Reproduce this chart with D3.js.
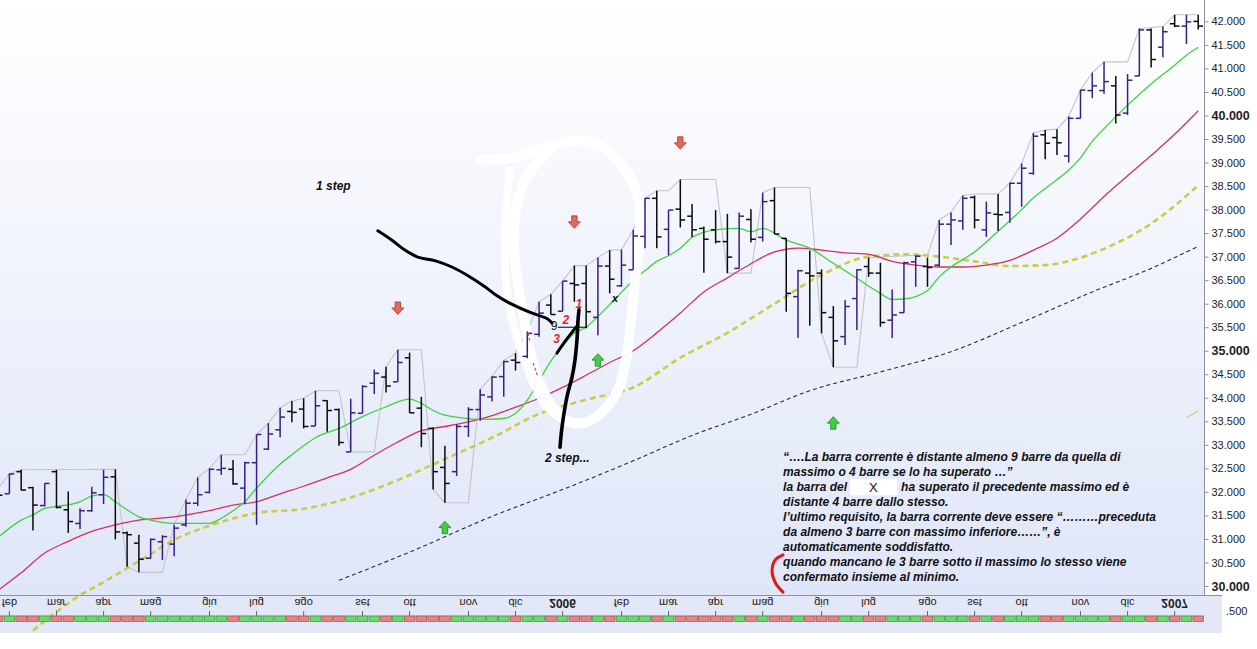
<!DOCTYPE html>
<html><head><meta charset="utf-8">
<script src="https://cdn.jsdelivr.net/npm/d3@7/dist/d3.min.js"></script>
<style>
html,body{margin:0;padding:0;background:#fff;overflow:hidden}
svg{display:block;font-family:"Liberation Sans",Arial,sans-serif}
</style></head><body>
<svg id="chart" width="1257" height="649"></svg>
<script>
// ---------- DATA (weekly bars, values in index points) ----------
const dates = ["2005-01-31","2005-02-07","2005-02-14","2005-02-21","2005-02-28","2005-03-07","2005-03-14","2005-03-21","2005-03-28","2005-04-04","2005-04-11","2005-04-18","2005-04-25","2005-05-02","2005-05-09","2005-05-16","2005-05-23","2005-05-30","2005-06-06","2005-06-13","2005-06-20","2005-06-27","2005-07-04","2005-07-11","2005-07-18","2005-07-25","2005-08-01","2005-08-08","2005-08-15","2005-08-22","2005-08-29","2005-09-05","2005-09-12","2005-09-19","2005-09-26","2005-10-03","2005-10-10","2005-10-17","2005-10-24","2005-10-31","2005-11-07","2005-11-14","2005-11-21","2005-11-28","2005-12-05","2005-12-12","2005-12-19","2005-12-26","2006-01-02","2006-01-09","2006-01-16","2006-01-23","2006-01-30","2006-02-06","2006-02-13","2006-02-20","2006-02-27","2006-03-06","2006-03-13","2006-03-20","2006-03-27","2006-04-03","2006-04-10","2006-04-17","2006-04-24","2006-05-01","2006-05-08","2006-05-15","2006-05-22","2006-05-29","2006-06-05","2006-06-12","2006-06-19","2006-06-26","2006-07-03","2006-07-10","2006-07-17","2006-07-24","2006-07-31","2006-08-07","2006-08-14","2006-08-21","2006-08-28","2006-09-04","2006-09-11","2006-09-18","2006-09-25","2006-10-02","2006-10-09","2006-10-16","2006-10-23","2006-10-30","2006-11-06","2006-11-13","2006-11-20","2006-11-27","2006-12-04","2006-12-11","2006-12-18","2006-12-25","2007-01-01","2007-01-08","2007-01-15"];
const open  = [31980,31960,32430,32090,31710,32430,31620,31330,31600,31940,32320,31130,30910,30590,30940,30890,31300,31760,31990,32470,32480,32080,32620,32910,33320,33710,33760,33400,33940,33750,32850,33670,34310,34440,34340,34850,33780,33350,32520,32430,33390,33750,34020,34450,34800,34880,35350,35970,35840,36430,36430,35710,36800,36380,36720,37430,38240,37580,38010,37860,37600,37570,37320,36750,37790,37410,38190,37390,36150,36650,36650,35710,35300,36110,36790,36650,35650,35810,36890,36790,36820,37690,37760,38260,37570,37900,37940,38560,38770,39590,39530,39140,39940,40530,40530,40630,40050,40840,41820,41450,41950,41900,42000];
const high  = [32050,32390,32470,32110,32180,32470,32010,31650,32110,32470,32480,31160,31090,31010,31080,31300,31840,32310,32500,32790,32680,32640,33220,33460,33790,33930,33990,34150,33950,33770,33980,34270,34600,34660,35020,34960,34020,33370,32980,33440,33800,34180,34460,34790,34950,35410,36040,36200,36480,36810,36810,36980,37140,37150,37570,38240,38400,37990,38640,38120,37640,37990,37910,37940,38010,38360,38470,37390,36720,37130,36730,35950,36080,36730,36980,36870,36300,36890,37030,36980,37780,37940,38300,38300,38170,38330,38570,38980,39630,39690,39710,39980,40540,40910,41140,40840,40880,41850,41850,41890,42140,42140,42140];
const low   = [31800,31960,32030,31180,31690,31650,31130,31210,31580,31740,30990,30410,30290,30580,30550,30630,31260,31700,31970,32360,32150,31740,31300,32890,33160,33480,33350,33400,33280,32980,32850,33670,34080,34110,34340,33680,32950,32050,31770,32340,33170,33510,33920,34020,34580,34840,35300,35770,35840,36040,35480,35330,36220,36360,36720,37180,37180,37030,37620,37420,36660,37280,36650,36750,37300,37320,37480,35830,35270,35530,35370,34650,35120,35440,36570,35510,35270,35810,36360,36360,36790,37250,37570,37600,37420,37550,37720,38060,38740,39070,39160,39000,39940,40370,40460,39830,40010,40840,41020,41240,41880,41520,41830];
const close = [31930,32380,32040,31720,32180,31670,31370,31600,31980,32310,31150,31090,30570,30990,31050,31230,31760,31940,32480,32500,32170,32620,33220,33230,33590,33690,33390,33830,33730,33050,33680,34240,34520,34250,34750,33680,33240,32430,32180,33390,33750,34060,34440,34770,34750,35370,35800,35770,36480,36400,35830,36800,36520,36820,37440,38240,37420,37990,37780,37570,37370,37320,36990,37860,37370,38170,37480,36220,36700,36590,35810,35210,35940,36720,36650,35600,35760,36870,37010,36770,37690,37780,38240,37780,37930,37890,38560,38880,39560,39410,39420,39940,40540,40630,40720,40010,40750,41820,41190,41780,41900,41990,41900];

// month ticks (first bar of each month) and their labels
const tickDates  = ["2005-02-07","2005-03-07","2005-04-04","2005-05-02","2005-06-06","2005-07-04","2005-08-01","2005-09-05","2005-10-03","2005-11-07","2005-12-05","2006-01-02","2006-02-06","2006-03-06","2006-04-03","2006-05-01","2006-06-05","2006-07-03","2006-08-07","2006-09-04","2006-10-02","2006-11-06","2006-12-04","2007-01-01"];
const tickLabels = ["feb","mar","apr","mag","giu","lug","ago","set","ott","nov","dic","2006","feb","mar","apr","mag","giu","lug","ago","set","ott","nov","dic","2007"];
const yTicks = [30000,30500,31000,31500,32000,32500,33000,33500,34000,34500,35000,35500,36000,36500,37000,37500,38000,38500,39000,39500,40000,40500,41000,41500,42000];

// swing (gray) line vertices: bar number (0 = 2005-02-07) and level
const swingIdx = [-1,0,1,9,10,11,13,14,15,16,17,18,20,21,22,23,24,25,26,28,29,31,32,33,35,36,37,39,40,41,42,43,44,45,46,47,48,49,50,51,52,53,54,55,56,57,60,61,63,64,65,68,69,70,72,73,77,78,79,80,81,82,84,85,86,87,88,89,90,91,92,93,95,96,98,99,101];
const swingVal = [32050,32390,32470,32480,30410,30290,30290,31300,31840,32310,32500,32790,32790,33220,33460,33790,33930,33990,34150,34150,32850,32850,34660,35020,35020,32050,31770,31770,34180,34460,34790,34950,35410,36040,36200,36480,36810,36810,36980,37140,37150,37570,38240,38400,38400,38640,38640,36650,36650,38360,38470,38470,35370,34650,34650,36980,37030,37030,37780,37940,38300,38330,38330,38570,38980,39630,39690,39710,39980,40540,40910,41140,41140,41850,41890,42140,42140];

// moving averages at sample bars
const greenIdx = [-1,1,2,3,4,6,7,8,9,10,11,12,14,17,18,19,20,21,23,24,25,26,28,30,32,34,35,36,37,39,40,42,43,44,45,46,47,48,49,50,51,52,53,54,55,56,57,58,60,62,63,64,66,68,70,72,74,75,76,78,79,80,82,84,86,87,88,90,91,92,93,95,97,99,100,101];
const greenVal = [31020,31400,31510,31650,31690,31790,31910,31940,31790,31620,31470,31400,31330,31330,31440,31600,31790,32080,32590,32790,32980,33150,33350,33600,33810,33970,33880,33730,33630,33560,33540,33560,33670,33950,34360,34780,35100,35380,35500,35730,35980,36240,36500,36700,36900,37020,37180,37410,37570,37600,37530,37600,37350,37180,36860,36540,36220,36090,36100,36280,36570,36780,37100,37540,38000,38250,38450,38840,39100,39450,39720,40220,40670,41070,41280,41450];
const redIdx = [-1,1,3,5,7,9,11,14,17,19,21,23,25,27,29,31,33,35,37,39,41,43,45,47,49,51,53,55,57,59,61,63,65,67,69,71,73,75,77,79,81,83,85,87,89,91,93,95,97,99,101];
const redVal = [29900,30280,30700,30950,31160,31300,31400,31470,31600,31720,31790,31960,32120,32300,32480,32780,33060,33300,33390,33490,33620,33800,33990,34220,34480,34750,35000,35380,35800,36250,36550,36850,37100,37180,37140,37080,37050,36900,36820,36780,36780,36820,36920,37140,37390,37800,38280,38720,39150,39600,40100];
const yellowIdx = [2,4,6,8,10,12,14,17,21,25,29,33,37,41,45,49,53,57,61,65,69,73,76,79,82,85,88,91,94,97,99,101];
const yellowVal = [29050,29450,29800,30080,30380,30680,30980,31280,31550,31640,31880,32250,32700,33150,33660,33960,34220,34850,35380,36000,36610,37000,37050,37000,36900,36800,36820,36980,37280,37700,38080,38520];
const blackIdx = [28,34,41,47,53,58,63,68,74,80,86,92,97,101];
const blackVal = [30120,30720,31480,32050,32660,33200,33650,34150,34550,34980,35600,36250,36750,37220];
const limeIdx = [100,101];
const limeVal = [33580,33720];

// signal arrows
const downIdx = [33,48,57];
const downVal = [35910,37740,39420];
const upIdx = [37,50,70];
const upVal = [31240,34800,33460];

// hand-drawn annotations, in (bar number, level)
const step1Line = [[31.3,37550],[32.5,37350],[33.6,37140],[34.7,36990],[36.2,36910],[37.6,36780],[39.0,36590],[40.4,36360],[41.3,36190],[42.3,36040],[44.2,35820],[45.7,35680],[46.1,35590]];
const step2Line = [[46.78,32950],[46.95,33380],[47.37,34020],[47.8,34440],[48.05,34800],[48.22,35230],[48.31,35650],[48.39,35870]];
const step2Hook = [[46.52,34950],[47.3,35230],[48.3,35550]];
const nineLine  = [[46.6,35500],[49.1,35500]];
const loopOuter = [[39.98,39050],[42.78,39100],[45.68,39330],[48.48,39480],[50.77,39270],[52.13,38910],[53.32,38350],[53.58,37780],[53.41,37040],[53.07,36290],[52.73,35440],[52.39,34810],[51.71,34170],[50.52,33740],[48.9,33470],[47.21,33530],[45.76,33960],[44.66,34590],[43.89,35440],[43.3,36290],[42.87,37140],[42.96,37880],[43.55,38460],[44.66,38950],[46.1,39310]];
const loopInner = [[42.53,38840],[42.11,37570],[42.28,36290],[42.96,35440],[44.06,34590],[45.51,33850],[46.78,33570]];
const redMarks  = [[[44.06,35380],[44.24,35170]],[[44.49,34740],[44.91,34440]]];
const bracket   = [[65.73,30660],[65.05,30550],[64.8,30300],[65.1,30060],[65.73,29870]];
const annotTexts = [
  {t:"1 step", i:26.05, v:38500, fill:"#111", size:12, w:"bold", s:"italic"},
  {t:"2 step...", i:45.5, v:32720, fill:"#111", size:12, w:"bold", s:"italic"},
  {t:"x", i:51.2, v:36120, fill:"#111", size:11, w:"bold", s:"italic"},
  {t:"9", i:46.0, v:35530, fill:"#111", size:12, w:"normal", s:"normal"},
  {t:"2", i:47.0, v:35660, fill:"#e02a2a", size:12, w:"bold", s:"italic"},
  {t:"1", i:48.1, v:36000, fill:"#e02a2a", size:12, w:"bold", s:"italic"},
  {t:"3", i:46.2, v:35250, fill:"#e02a2a", size:12, w:"bold", s:"italic"}
];
const noteIdx = 65.73, noteVal = 32735;
const noteLines = [
  "“….La barra corrente è distante almeno 9 barre da quella di",
  "massimo o 4 barre se lo ha superato …”",
  "la barra del",
  "distante 4 barre dallo stesso.",
  "l’ultimo requisito, la barra corrente deve essere “………preceduta",
  "da almeno 3 barre con massimo inferiore……”, è",
  "automaticamente soddisfatto.",
  "quando mancano le 3 barre sotto il massimo lo stesso viene",
  "confermato insieme al minimo."
];
const noteLine3b = "ha superato il precedente massimo ed è";

// ---------- DRAW ----------
const svg = d3.select("#chart");
const plotR = 1204, plotB = 595;
const xr = [-2.37, 1198.2];
const x  = d3.scalePoint().domain(dates).range(xr);
const xi = d3.scaleLinear().domain([-1, 101]).range(xr);
const y  = d3.scaleLinear().domain([30000, 42000]).range([586, 21.4]);
const fmt = d3.formatLocale({decimal:",", thousands:".", grouping:[3], currency:["€",""]}).format(",.0f");

const defs = svg.append("defs");
const grad = defs.append("linearGradient").attr("id","bgGrad").attr("x1",0).attr("y1",0).attr("x2",0).attr("y2",1);
grad.append("stop").attr("offset","0%").attr("stop-color","#ffffff");
grad.append("stop").attr("offset","100%").attr("stop-color","#dfe6f8");

svg.append("rect").attr("width",1257).attr("height",649).attr("fill","#fff");
svg.append("rect").attr("x",0).attr("y",0).attr("width",plotR).attr("height",plotB).attr("fill","url(#bgGrad)");
svg.append("rect").attr("x",0).attr("y",plotB).attr("width",1222).attr("height",38).attr("fill","#e2e8f7");

const bars = dates.map((d,i)=>({d, o:open[i], h:high[i], l:low[i], c:close[i]}));
const pts = (I,V) => I.map((i,k)=>[i,V[k]]);

// swing line
svg.append("path").datum(pts(swingIdx,swingVal))
  .attr("d", d3.line().x(d=>xi(d[0])).y(d=>y(d[1])))
  .attr("fill","none").attr("stroke","#c4c4cc").attr("stroke-width",1.1);

// moving averages
const curve = d3.line().x(d=>xi(d[0])).y(d=>y(d[1])).curve(d3.curveMonotoneX);
svg.append("path").datum(pts(blackIdx,blackVal)).attr("d",curve)
  .attr("fill","none").attr("stroke","#2a2a3a").attr("stroke-width",1.1).attr("stroke-dasharray","4,3");
svg.append("path").datum(pts(yellowIdx,yellowVal)).attr("d",curve)
  .attr("fill","none").attr("stroke","#cccc44").attr("stroke-width",2.6).attr("stroke-dasharray","6,4");
svg.append("path").datum(pts(redIdx,redVal)).attr("d",curve)
  .attr("fill","none").attr("stroke","#d8305a").attr("stroke-width",1.3);
svg.append("path").datum(pts(greenIdx,greenVal)).attr("d",curve)
  .attr("fill","none").attr("stroke","#3ed23e").attr("stroke-width",1.3);
svg.append("path").datum(pts(limeIdx,limeVal)).attr("d",curve)
  .attr("fill","none").attr("stroke","#c8d878").attr("stroke-width",1.3);

// white hand-drawn loop
const hand = d3.line().x(d=>xi(d[0])).y(d=>y(d[1])).curve(d3.curveCatmullRom);
svg.append("path").datum(loopOuter).attr("d",hand).attr("fill","none")
  .attr("stroke","#ffffff").attr("stroke-width",10).attr("stroke-linecap","round").attr("stroke-linejoin","round").attr("opacity",0.95);
svg.append("path").datum(loopInner).attr("d",hand).attr("fill","none")
  .attr("stroke","#ffffff").attr("stroke-width",8).attr("stroke-linecap","round").attr("opacity",0.9);

// OHLC bars
const bg = svg.append("g").selectAll("g").data(bars).join("g")
  .attr("stroke", d => d.c >= d.o ? "#3b1e82" : "#0a0a0a").attr("stroke-width",1.5);
bg.append("line").attr("x1",d=>x(d.d)).attr("x2",d=>x(d.d)).attr("y1",d=>y(d.h)).attr("y2",d=>y(d.l));
bg.append("line").attr("x1",d=>x(d.d)-4.8).attr("x2",d=>x(d.d)).attr("y1",d=>y(d.o)).attr("y2",d=>y(d.o));
bg.append("line").attr("x1",d=>x(d.d)).attr("x2",d=>x(d.d)+4.8).attr("y1",d=>y(d.c)).attr("y2",d=>y(d.c));

// arrows
const downPath = "M-2.7,-6 L2.7,-6 L2.7,0 L6,0 L0,6.5 L-6,0 L-2.7,0 Z";
const upPath   = "M-2.7,6 L2.7,6 L2.7,0 L6,0 L0,-6.5 L-6,0 L-2.7,0 Z";
svg.append("g").selectAll("path").data(pts(downIdx,downVal)).join("path")
  .attr("d",downPath).attr("transform",d=>`translate(${xi(d[0])},${y(d[1])})`)
  .attr("fill","#e4675d").attr("stroke","#a9392f").attr("stroke-width",0.8);
svg.append("g").selectAll("path").data(pts(upIdx,upVal)).join("path")
  .attr("d",upPath).attr("transform",d=>`translate(${xi(d[0])},${y(d[1])})`)
  .attr("fill","#44cc44").attr("stroke","#1e8a1e").attr("stroke-width",0.8);

// black hand-drawn lines
svg.append("path").datum(step1Line).attr("d",hand).attr("fill","none")
  .attr("stroke","#000").attr("stroke-width",3).attr("stroke-linecap","round");
svg.append("path").datum(step2Line).attr("d",hand).attr("fill","none")
  .attr("stroke","#000").attr("stroke-width",3.6).attr("stroke-linecap","round");
svg.append("path").datum(step2Hook).attr("d",hand).attr("fill","none")
  .attr("stroke","#000").attr("stroke-width",3).attr("stroke-linecap","round");
svg.append("path").datum(nineLine).attr("d",d3.line().x(d=>xi(d[0])).y(d=>y(d[1])))
  .attr("stroke","#000").attr("stroke-width",1);
redMarks.forEach(m => svg.append("path").datum(m).attr("d",d3.line().x(d=>xi(d[0])).y(d=>y(d[1])))
  .attr("stroke","#e05050").attr("stroke-width",1.2).attr("stroke-dasharray","3,2").attr("fill","none"));
svg.append("path").datum(bracket).attr("d",hand).attr("fill","none")
  .attr("stroke","#e01818").attr("stroke-width",3).attr("stroke-linecap","round");

// annotation texts
svg.append("g").selectAll("text").data(annotTexts).join("text")
  .attr("x",d=>xi(d.i)).attr("y",d=>y(d.v)).attr("dominant-baseline","central")
  .attr("font-size",d=>d.size).attr("font-weight",d=>d.w).attr("font-style",d=>d.s)
  .attr("fill",d=>d.fill).text(d=>d.t);

// explanatory note
const nx = xi(noteIdx), ny = y(noteVal);
const note = svg.append("g").attr("font-size",12).attr("font-weight","bold").attr("font-style","italic").attr("fill","#111");
note.selectAll("text").data(noteLines).join("text")
  .attr("x",nx).attr("y",(d,k)=>ny + k*15).attr("dominant-baseline","central").text(d=>d);
note.append("rect").attr("x",nx+67).attr("y",ny+30-8).attr("width",47).attr("height",16).attr("fill","#fff");
note.append("text").attr("x",nx+86).attr("y",ny+30).attr("dominant-baseline","central")
  .attr("font-weight","normal").attr("font-style","normal").attr("font-size",13).text("X");
note.append("text").attr("x",nx+118).attr("y",ny+30).attr("dominant-baseline","central").text(noteLine3b);

// ---------- right axis ----------
svg.append("rect").attr("x",plotR).attr("y",0).attr("width",53).attr("height",plotB).attr("fill","#fff");
svg.append("line").attr("x1",plotR+0.5).attr("x2",plotR+0.5).attr("y1",0).attr("y2",plotB).attr("stroke","#8c919b");
const ya = svg.append("g").attr("transform",`translate(${plotR+0.5},0)`)
  .call(d3.axisRight(y).tickValues(yTicks).tickSize(4).tickPadding(3).tickFormat(fmt));
ya.select(".domain").remove();
ya.selectAll(".tick line").attr("stroke","#8c919b");
ya.selectAll(".tick text").attr("fill","#222").attr("font-family","'Liberation Sans',Arial,sans-serif")
  .attr("font-size",d=> d%5000===0 ? 12.5 : 11).attr("font-weight",d=> d%5000===0 ? "bold" : "normal");

// ---------- bottom time axis ----------
svg.append("line").attr("x1",0).attr("x2",1222).attr("y1",plotB+0.5).attr("y2",plotB+0.5).attr("stroke","#8c919b");
const tk = svg.append("g");
tk.selectAll("line").data(tickDates).join("line")
  .attr("x1",d=>x(d)).attr("x2",d=>x(d)).attr("y1",611).attr("y2",616).attr("stroke","#666");
tk.selectAll("text").data(tickDates).join("text")
  .attr("transform",d=>`translate(${x(d)},603) scale(1,-1)`)
  .attr("text-anchor","middle").attr("dominant-baseline","central")
  .attr("font-size",(d,k)=> /^\d+$/.test(tickLabels[k]) ? 12 : 11)
  .attr("font-weight",(d,k)=> /^\d+$/.test(tickLabels[k]) ? "bold" : "normal")
  .attr("fill","#222").text((d,k)=>tickLabels[k]);
svg.append("line").attr("x1",0).attr("x2",1203).attr("y1",616).attr("y2",616).attr("stroke","#9aa0a8").attr("stroke-width",0.6);
svg.append("g").selectAll("rect").data(bars).join("rect")
  .attr("x",d=>x(d.d)-5.3).attr("width",10.6).attr("y",616).attr("height",5.5)
  .attr("fill",d=> d.c >= d.o ? "#6dd66d" : "#e08686")
  .attr("stroke",d=> d.c >= d.o ? "#33993a" : "#b04a4a").attr("stroke-width",0.7);

// second-pane axis remnants
svg.append("text").attr("x",1226).attr("y",611).attr("dominant-baseline","central").attr("font-size",11).attr("fill","#222").text(".500");
defs.append("clipPath").attr("id","cut").append("rect").attr("x",1205).attr("y",620).attr("width",52).attr("height",16);
svg.append("text").attr("x",1211).attr("y",641).attr("dominant-baseline","central").attr("font-size",11).attr("fill","#222")
  .attr("clip-path","url(#cut)").text("30.000");
</script>
</body></html>
